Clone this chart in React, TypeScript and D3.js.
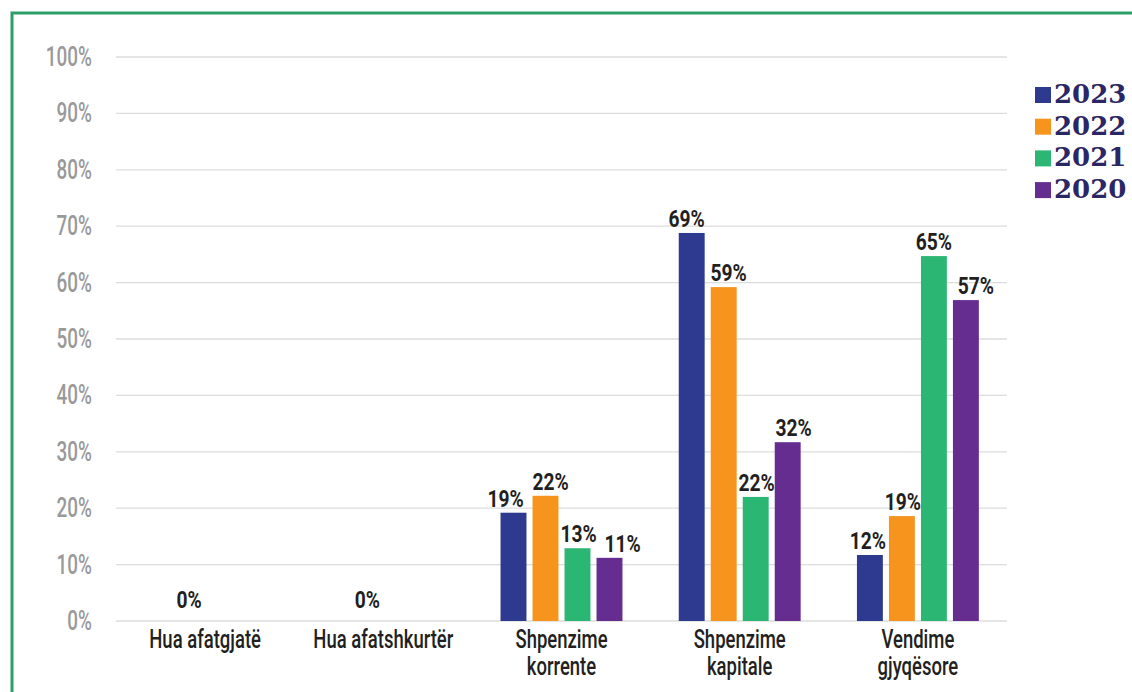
import React from "react";
import * as d3 from "d3";

const categories: string[][] = [
  ["Hua afatgjatë"],
  ["Hua afatshkurtër"],
  ["Shpenzime", "korrente"],
  ["Shpenzime", "kapitale"],
  ["Vendime", "gjyqësore"],
];
const seriesNames = ["2023", "2022", "2021", "2020"];
const colors = ["#2e3a8f", "#f7941d", "#2bb673", "#662d91"];
const values2023: (number | null)[] = [null, null, 19.2, 68.8, 11.7];
const values2022: (number | null)[] = [0, 0, 22.2, 59.2, 18.6];
const values2021: (number | null)[] = [null, null, 12.9, 22.0, 64.7];
const values2020: (number | null)[] = [null, null, 11.2, 31.7, 56.9];
const seriesValues = [values2023, values2022, values2021, values2020];
const yTicks = [0, 10, 20, 30, 40, 50, 60, 70, 80, 90, 100];

// label nudges (layout only), per series per category, in px
const labelNudge = [
  [0, 0, -8, -5, -2],
  [0, 0, 5, 5, 1],
  [0, 0, 1, 1, 0],
  [0, 0, 13, 6, 10],
];

const W = 1132;
const H = 692;
const plotLeft = 116;
const plotRight = 1007;
const plotTop = 57;
const plotBottom = 621;
const FONT = "Roboto, 'Noto Sans', sans-serif";

function CText({ x, y, sx, size, weight, fill, anchor, children }: any) {
  return (
    <g transform={`translate(${x},${y}) scale(${sx},1)`}>
      <text
        x={0}
        y={0}
        fontFamily={FONT}
        fontSize={size}
        fontWeight={weight}
        fill={fill}
        textAnchor={anchor}
      >
        {children}
      </text>
    </g>
  );
}

export default function App() {
  React.useEffect(() => {
    document.body.style.margin = "0";
  }, []);

  const y = d3.scaleLinear().domain([0, 100]).range([plotBottom, plotTop]);
  const x0 = d3
    .scaleBand<number>()
    .domain(categories.map((_, i) => i))
    .range([plotLeft, plotRight])
    .padding(0);
  const bw = x0.bandwidth();
  const groupW = 128;
  const x1 = d3
    .scaleBand<number>()
    .domain(seriesNames.map((_, i) => i))
    .range([bw / 2 - groupW / 2, bw / 2 + groupW / 2])
    .paddingInner(0.19)
    .paddingOuter(0.095);

  return (
    <svg width={W} height={H} style={{ position: "absolute", left: 0, top: 0, background: "#fff" }}>
      <rect x={0} y={0} width={W} height={H} fill="#fff" />
      {/* border */}
      <path d={`M12,${H + 5} L12,13 L${W + 5},13`} fill="none" stroke="#2e9e68" strokeWidth={3} />
      {/* grid */}
      {yTicks.map((t) => (
        <g key={t}>
          <line x1={plotLeft} x2={plotRight} y1={y(t)} y2={y(t)} stroke="#dcdcdc" strokeWidth={1.3} />
          <CText x={92} y={y(t) + 9} sx={0.7} size={27} weight={500} fill="#999999" anchor="end">
            {`${t}%`}
          </CText>
        </g>
      ))}
      {/* bars */}
      {categories.map((cat, ci) => (
        <g key={ci} transform={`translate(${x0(ci)},0)`}>
          {seriesValues.map((vals, si) => {
            const v = vals[ci];
            if (v === null) return null;
            const bx = x1(si)!;
            return (
              <g key={si}>
                {v > 0 && (
                  <rect
                    x={bx}
                    y={y(v)}
                    width={x1.bandwidth()}
                    height={plotBottom - y(v)}
                    fill={colors[si]}
                  />
                )}
                <CText
                  x={bx + x1.bandwidth() / 2 + labelNudge[si][ci]}
                  y={y(v) - (v > 0 ? 6 : 13)}
                  sx={0.8}
                  size={24}
                  weight={700}
                  fill="#231f20"
                  anchor="middle"
                >
                  {`${Math.round(v)}%`}
                </CText>
              </g>
            );
          })}
          {cat.map((line, li) => (
            <CText
              key={li}
              x={bw / 2}
              y={648 + li * 27}
              sx={0.74}
              size={25}
              weight={500}
              fill="#231f20"
              anchor="middle"
            >
              {line}
            </CText>
          ))}
        </g>
      ))}
      {/* legend */}
      {seriesNames.map((s, i) => (
        <g key={s} transform={`translate(1035,${87 + i * 31.7})`}>
          <rect x={0} y={0} width={16} height={16} fill={colors[i]} />
          <text
            x={19}
            y={16}
            fontFamily="'DejaVu Serif', serif"
            fontWeight={700}
            fontSize={26}
            fill="#2b2766"
          >
            {s}
          </text>
        </g>
      ))}
    </svg>
  );
}
